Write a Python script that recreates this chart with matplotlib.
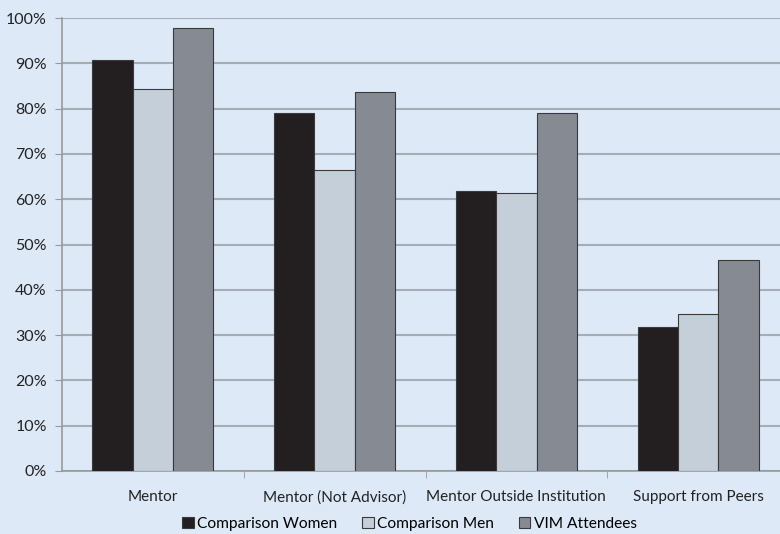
import matplotlib.pyplot as plt
import numpy as np
from matplotlib.ticker import PercentFormatter

categories = ["Mentor", "Mentor (Not Advisor)", "Mentor Outside Institution",
              "Support from Peers"]
series_names = ["Comparison Women", "Comparison Men", "VIM Attendees"]
women = [90.7, 79.0, 61.7, 31.8]
men = [84.3, 66.4, 61.4, 34.7]
vim = [97.7, 83.7, 79.1, 46.6]
colors = ["#231f20", "#c5cfda", "#868a92"]

plt.rcParams["font.family"] = ["Lato", "DejaVu Sans"]

bg = "#dde9f7"
fig = plt.figure(figsize=(7.8, 5.34), dpi=100, facecolor=bg)
ax = fig.add_axes([62 / 780, 1 - 471 / 534, 727 / 780, 453 / 534])
ax.set_facecolor(bg)

x = np.arange(len(categories))
w = 0.222
for i, (vals, name) in enumerate(zip([women, men, vim], series_names)):
    ax.bar(x + (i - 1) * w, vals, w, color=colors[i], edgecolor="#3a3a3a",
           linewidth=0.8, label=name, zorder=3)

ax.set_xlim(-0.5, len(categories) - 0.5)
ax.set_ylim(0, 100)
ax.set_yticks(range(0, 101, 10))
ax.yaxis.set_major_formatter(PercentFormatter(decimals=0))
ax.set_xticks(x)
ax.set_xticklabels(categories)
ax.set_xticks(np.arange(0.5, len(categories) - 0.5, 1), minor=True)
ax.tick_params(axis="x", which="major", length=0, pad=14, labelsize=11,
               labelcolor="#222222")
ax.tick_params(axis="x", which="minor", length=5, color="#999999")
ax.tick_params(axis="y", length=5, color="#999999", labelsize=11.5,
               labelcolor="#222222", pad=6)
ax.grid(axis="y", color="#a7adb4", linewidth=1.5, zorder=0)
for side in ["top", "right"]:
    ax.spines[side].set_visible(False)
for side in ["left", "bottom"]:
    ax.spines[side].set_color("#999999")
    ax.spines[side].set_linewidth(1.2)

fig.legend(loc="lower center", bbox_to_anchor=(0.525, -0.02), ncol=3,
           frameon=False, fontsize=11.2, handlelength=0.75, handleheight=0.75,
           handletextpad=0.2, columnspacing=1.6)

fig.savefig("out.png", dpi=100, facecolor=bg)
